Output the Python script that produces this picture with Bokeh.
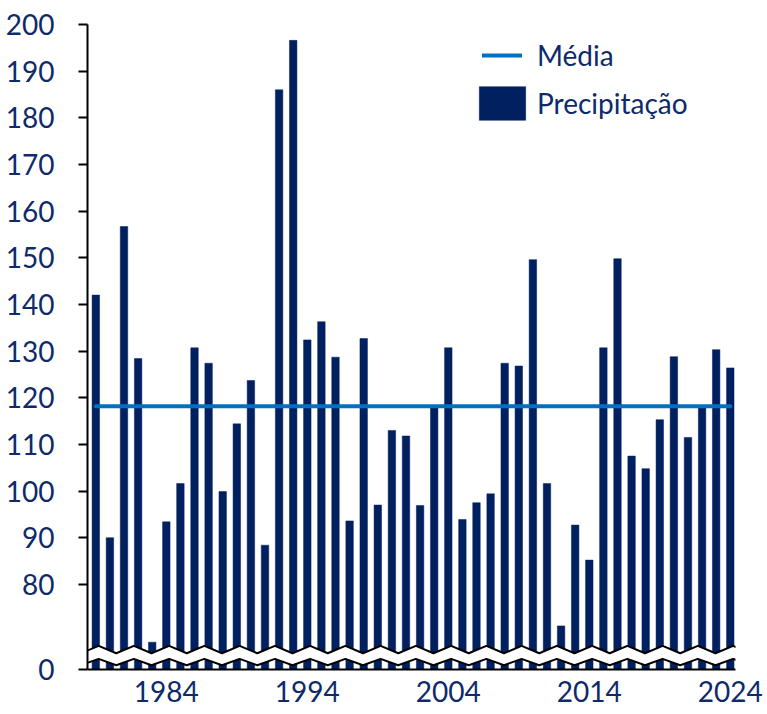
import numpy as np
from bokeh.plotting import figure
from bokeh.models import (Range1d, FixedTicker, CustomJSTickFormatter, Legend,
                          LegendItem)
from bokeh.embed import file_html
from bokeh.resources import INLINE

# ---------------- data ----------------
years = list(range(1979, 2025))
precip = [142.0, 90.0, 156.7, 128.4, 67.6, 93.4, 101.6, 130.7, 127.4, 99.9,
          114.4, 123.7, 88.4, 186.0, 196.6, 132.4, 136.3, 128.7, 93.6, 132.7,
          97.0, 113.0, 111.8, 96.9, 117.8, 130.7, 93.9, 97.5, 99.4, 127.4,
          126.8, 149.6, 101.6, 71.1, 92.7, 85.2, 130.7, 149.8, 107.5, 104.8,
          115.3, 128.8, 111.5, 117.8, 130.3, 126.4]
media = 118.2
y_ticks = [80, 90, 100, 110, 120, 130, 140, 150, 160, 170, 180, 190, 200]
x_ticks = [1984, 1994, 2004, 2014, 2024]
series_labels = ["Média", "Precipitação"]

# ---------------- style ----------------
NAVY = "#002060"
BLUE = "#0070C0"
TEXT = "#0E2A6B"
FONT = "Lato"
FS = "28px"

axis_floor = 61.75   # position on the (broken) axis that represents 0

p = figure(frame_width=648, frame_height=645,
           min_border_left=87, min_border_right=32,
           min_border_top=24, min_border_bottom=45,
           x_range=Range1d(1978.41, 2024.37),
           y_range=Range1d(axis_floor, 200),
           output_backend="svg", toolbar_location=None)
p.outline_line_color = None
p.xgrid.visible = False
p.ygrid.visible = False
p.background_fill_color = "white"
p.border_fill_color = "white"

r_bars = p.vbar(x=years, top=precip, bottom=axis_floor, width=0.53,
                fill_color=NAVY, line_color=NAVY, line_width=0.5)

# axis break (zigzag band)
period = 2.5
xs = np.arange(1977.95, 2025.6, period / 2)
idx = np.arange(len(xs)) % 2
up = np.where(idx == 0, axis_floor + 3.48, axis_floor + 5.06)
lo = np.where(idx == 0, axis_floor + 0.92, axis_floor + 2.29)
p.patch(x=np.concatenate([xs, xs[::-1]]), y=np.concatenate([up, lo[::-1]]),
        fill_color="white", line_color=None)
p.line(xs, up, line_color="black", line_width=2)
p.line(xs, lo, line_color="black", line_width=2)

r_mean = p.line([years[0], years[-1]], [media, media], line_color=BLUE,
                line_width=4, line_cap="round")

# legend positions are offsets from the frame's bottom-left corner
common = dict(padding=0, margin=0, border_line_color=None,
              background_fill_alpha=0, label_text_font=FONT,
              label_text_font_size=FS, label_text_color=TEXT, spacing=0)
leg1 = Legend(items=[LegendItem(label=series_labels[0], renderers=[r_mean])],
              location=(395, 597), glyph_width=40, glyph_height=34,
              label_standoff=15, **common)
leg2 = Legend(items=[LegendItem(label=series_labels[1], renderers=[r_bars])],
              location=(386, 545), glyph_width=58, glyph_height=42,
              label_standoff=6, **common)
p.add_layout(leg1)
p.add_layout(leg2)

# axes
p.yaxis.ticker = FixedTicker(ticks=[axis_floor] + y_ticks)
p.yaxis.formatter = CustomJSTickFormatter(
    code="return tick < 70 ? '0' : tick.toFixed(0);")
p.yaxis.major_tick_out = 9
p.yaxis.major_tick_in = 0
p.yaxis.minor_tick_out = 0
p.yaxis.minor_tick_in = 0
p.yaxis.major_label_standoff = 24

p.xaxis.ticker = FixedTicker(ticks=x_ticks)
p.xaxis.major_tick_out = 0
p.xaxis.major_tick_in = 0
p.xaxis.minor_tick_out = 0
p.xaxis.minor_tick_in = 0
p.xaxis.major_label_standoff = 11

for ax in (p.xaxis, p.yaxis):
    ax.axis_line_color = "black"
    ax.axis_line_width = 2
    ax.major_tick_line_color = "black"
    ax.major_tick_line_width = 2
    ax.major_label_text_font = FONT
    ax.major_label_text_font_size = FS
    ax.major_label_text_color = TEXT

open("out.html", "w").write(file_html(p, INLINE))
